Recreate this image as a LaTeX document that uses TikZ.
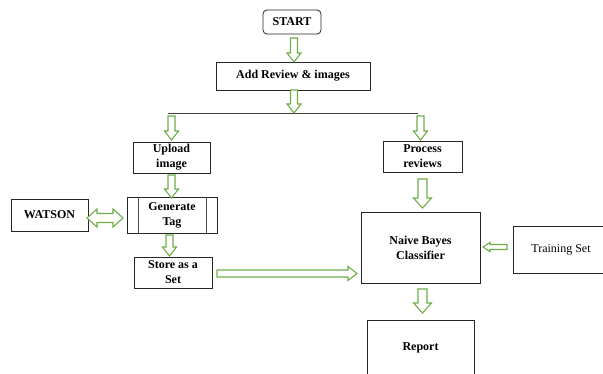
\documentclass[tikz,border=0pt]{standalone}
\usepackage{fontspec}
\setmainfont{Liberation Serif}[BoldFont={Liberation Serif Bold}]
\usetikzlibrary{calc}
\definecolor{arrowgreen}{RGB}{112,173,71}
\def\bs{3.5}\def\bw{7}\def\bl{9}\def\sg{2}\def\tg{0}

\begin{document}
\begin{tikzpicture}[x=1pt, y=-1pt,
  every node/.style={draw=black!85, line width=0.8pt, font=\fontsize{12}{15}\selectfont\bfseries, align=center, inner sep=0pt, outer sep=0pt},
  barrow/.style={draw=arrowgreen, line width=1.1pt, fill=white, line join=miter},
  from gap/.code={\def\sg{#1}}, to gap/.code={\def\tg{#1}},
  big/.code={\def\bs{4.5}\def\bw{9}\def\bl{10}},
  small/.code={\def\bs{2.5}\def\bw{4.5}\def\bl{7}},
  down arrow/.style={barrow, to path={($(\tikztostart)+(-\bs,\sg)$) -- ($(\tikztotarget)+(-\bs,-\tg-\bl)$) -- ($(\tikztotarget)+(-\bw,-\tg-\bl)$) -- ($(\tikztotarget)+(0,-\tg)$) -- ($(\tikztotarget)+(\bw,-\tg-\bl)$) -- ($(\tikztotarget)+(\bs,-\tg-\bl)$) -- ($(\tikztostart)+(\bs,\sg)$) -- cycle}},
  right arrow/.style={barrow, to path={($(\tikztostart)+(\sg,-\bs)$) -- ($(\tikztotarget)+(-\tg-\bl,-\bs)$) -- ($(\tikztotarget)+(-\tg-\bl,-\bw)$) -- ($(\tikztotarget)+(-\tg,0)$) -- ($(\tikztotarget)+(-\tg-\bl,\bw)$) -- ($(\tikztotarget)+(-\tg-\bl,\bs)$) -- ($(\tikztostart)+(\sg,\bs)$) -- cycle}},
  left arrow/.style={barrow, to path={($(\tikztostart)+(-\sg,-\bs)$) -- ($(\tikztotarget)+(\tg+\bl,-\bs)$) -- ($(\tikztotarget)+(\tg+\bl,-\bw)$) -- ($(\tikztotarget)+(\tg,0)$) -- ($(\tikztotarget)+(\tg+\bl,\bw)$) -- ($(\tikztotarget)+(\tg+\bl,\bs)$) -- ($(\tikztostart)+(-\sg,\bs)$) -- cycle}},
  both arrow/.style={barrow, to path={($(\tikztostart)+(\sg,0)$) -- ($(\tikztostart)+(\sg+\bl,-\bw)$) -- ($(\tikztostart)+(\sg+\bl,-\bs)$) -- ($(\tikztotarget)+(-\tg-\bl,-\bs)$) -- ($(\tikztotarget)+(-\tg-\bl,-\bw)$) -- ($(\tikztotarget)+(-\tg,0)$) -- ($(\tikztotarget)+(-\tg-\bl,\bw)$) -- ($(\tikztotarget)+(-\tg-\bl,\bs)$) -- ($(\tikztostart)+(\sg+\bl,\bs)$) -- ($(\tikztostart)+(\sg+\bl,\bw)$) -- cycle}}]
\useasboundingbox[fill=white] (0,0) rectangle (603,374);

\node[rounded corners=4pt, minimum width=58, minimum height=24] (start) at (292,22) {START};
\node[minimum width=154, minimum height=28] (add) at (293,76) {Add Review \& images};
\node[minimum width=77, minimum height=31] (upload) at (171.5,157.5) {Upload\\image};
\node[minimum width=90, minimum height=36] (generate) at (172,215) {Generate\\Tag};
\node[minimum width=77, minimum height=32] (watson) at (49.5,215) {WATSON};
\node[minimum width=78, minimum height=31] (store) at (173,272.5) {Store as a\\Set};
\node[minimum width=79, minimum height=31] (process) at (422.5,156.5) {Process\\reviews};
\node[minimum width=119, minimum height=71] (nb) at (420.5,247.5) {Naive Bayes\\Classifier};
\node[minimum width=96, minimum height=47, font=\fontsize{12}{15}\selectfont] (training) at (561,249.5) {Training Set};
\node[minimum width=107, minimum height=56] (report) at (420.5,348) {Report};

\draw[black!70, line width=0.8pt] ($(generate.north west)+(11,0)$) -- ($(generate.south west)+(11,0)$);
\draw[black!70, line width=0.8pt] ($(generate.north east)+(-11,0)$) -- ($(generate.south east)+(-11,0)$);

\coordinate (fork) at (294,114);
\coordinate (forkL) at (168,114);
\coordinate (forkR) at (418,114);
\draw[black!75, line width=1pt] (forkL) -- (forkR);

\draw[down arrow, from gap=4] ([xshift=2]start.south) to ([xshift=2]start.south |- add.north);
\draw[down arrow, from gap=0, to gap=1] ([xshift=1]add.south) to (fork);
\draw[down arrow, to gap=2] (upload.north |- forkL) to (upload.north);
\draw[down arrow, to gap=1] ([xshift=-2]process.north |- forkR) to ([xshift=-2]process.north);
\draw[down arrow, to gap=-1] (upload.south) to (upload.south |- generate.north);
\draw[down arrow, to gap=1] ([xshift=-2.5]generate.south) to ([xshift=-2.5]generate.south |- store.north);
\draw[down arrow, big, from gap=7, to gap=4] (process.south) to (process.south |- nb.north);
\draw[down arrow, big, from gap=6, to gap=7] ([xshift=2]nb.south) to ([xshift=2]nb.south |- report.north);
\draw[right arrow, from gap=5, to gap=4] ([yshift=-1]store.east) to ([yshift=-1]store.east -| nb.west);
\draw[left arrow, small, from gap=6, to gap=3] ([yshift=2.5]training.west) to ([yshift=2.5]training.west -| nb.east);
\draw[both arrow, big, from gap=-1, to gap=4] ([yshift=-3]watson.east) to ([yshift=-3]watson.east -| generate.west);
\end{tikzpicture}
\end{document}
